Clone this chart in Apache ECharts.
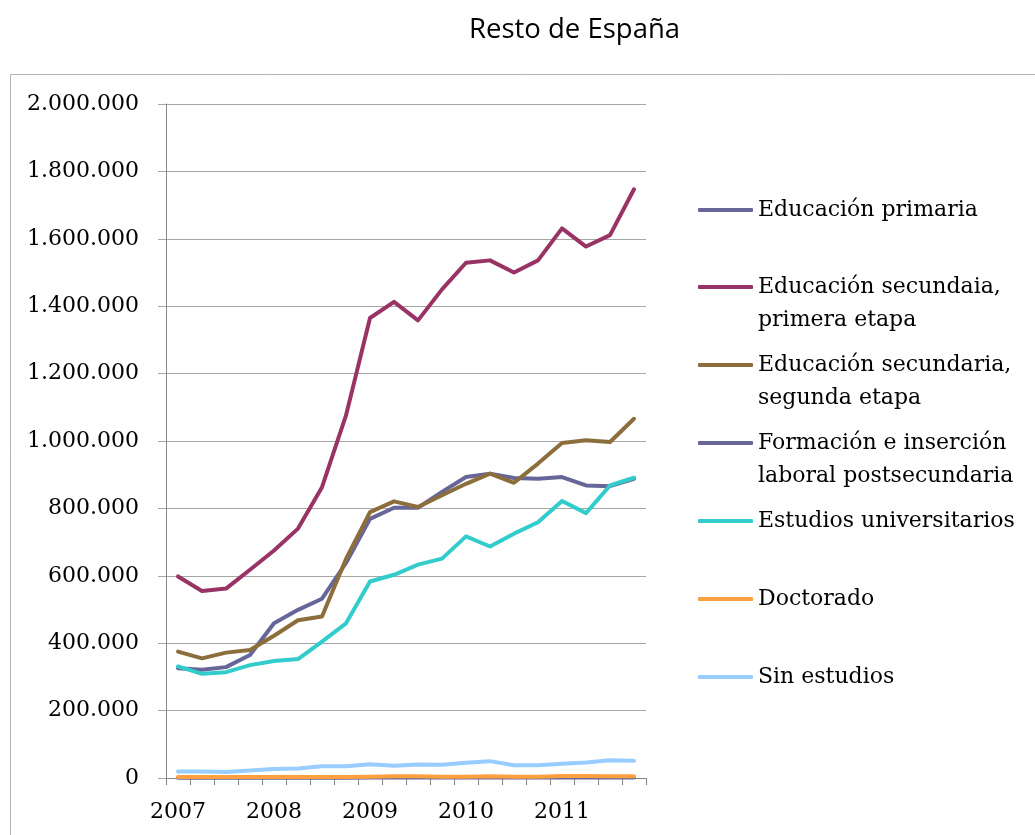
<!DOCTYPE html>
<html>
<head>
<meta charset="utf-8">
<script src="https://cdn.jsdelivr.net/npm/echarts@6/dist/echarts.min.js"></script>
<style>
html,body{margin:0;padding:0;background:#fff;}
#chart{width:1035px;height:835px;}
</style>
</head>
<body>
<div id="chart"></div>
<script>
const title = 'Resto de España';
const categories = [
  '2007T1','2007T2','2007T3','2007T4',
  '2008T1','2008T2','2008T3','2008T4',
  '2009T1','2009T2','2009T3','2009T4',
  '2010T1','2010T2','2010T3','2010T4',
  '2011T1','2011T2','2011T3','2011T4'
];
const seriesNames = [
  'Educación primaria',
  'Educación secundaia, primera etapa',
  'Educación secundaria, segunda etapa',
  'Formación e inserción laboral postsecundaria',
  'Estudios universitarios',
  'Doctorado',
  'Sin estudios'
];
const legendLabels = [
  'Educación primaria',
  'Educación secundaia,\nprimera etapa',
  'Educación secundaria,\nsegunda etapa',
  'Formación e inserción\nlaboral postsecundaria',
  'Estudios universitarios',
  'Doctorado',
  'Sin estudios'
];
const primaria = [326000,321000,329000,365000,459000,499000,532000,638000,769000,802000,802000,849000,893000,903000,890000,888000,893000,868000,866000,888000];
const secundaria1 = [598000,555000,562000,618000,675000,740000,863000,1076000,1365000,1413000,1358000,1450000,1529000,1536000,1500000,1536000,1631000,1577000,1611000,1747000];
const secundaria2 = [375000,355000,372000,380000,422000,468000,479000,650000,789000,821000,804000,839000,873000,903000,876000,933000,994000,1002000,997000,1066000];
const formacion = [1000,1000,1000,1000,1000,1000,1000,1000,1500,1500,1500,1500,1500,1500,1500,1500,1500,1500,1500,1500];
const universitarios = [331000,309000,314000,335000,347000,353000,405000,459000,583000,603000,633000,651000,717000,687000,725000,759000,822000,786000,868000,891000];
const doctorado = [3000,3000,3000,3000,3000,3000,3000,3000,4000,5000,5000,4000,4000,5000,4000,4000,6000,6000,5000,5000];
const sinEstudios = [19000,19000,18000,22000,27000,28000,35000,35000,41000,36000,40000,39000,45000,50000,38000,38000,42000,46000,53000,51000];
const yTicks = {min: 0, max: 2000000, interval: 200000};

const seriesData = [primaria, secundaria1, secundaria2, formacion, universitarios, doctorado, sinEstudios];
const colors = ['#666699','#993366','#8c6e3c','#666699','#33cccc','#ffa040','#99ccff'];
const legendY = [210, 287, 365, 443, 521, 599, 677];

const serif = 'DejaVu Serif';
const LH = 33;

function fmt(v){
  return String(v).replace(/\B(?=(\d{3})+(?!\d))/g, '.');
}

const legends = seriesNames.map((name, i) => {
  const twoLine = legendLabels[i].indexOf('\n') >= 0;
  // a leading blank line keeps the first text line level with the legend line
  const label = twoLine ? ' \n' + legendLabels[i] : legendLabels[i];
  return {
    data: [name],
    orient: 'vertical',
    left: 698,
    top: twoLine ? legendY[i] - LH * 1.5 : legendY[i] - LH / 2,
    padding: 0,
    itemWidth: 55,
    itemHeight: 4,
    icon: 'roundRect',
    selectedMode: false,
    formatter: () => label,
    textStyle: {
      fontFamily: serif,
      fontSize: 22,
      color: '#000',
      lineHeight: LH
    }
  };
});

const chart = echarts.init(document.getElementById('chart'), null, {renderer: 'canvas'});
chart.setOption({
  animation: false,
  backgroundColor: '#fff',
  color: colors,
  title: {
    text: title,
    left: 469,
    top: 16,
    padding: 0,
    textStyle: {fontFamily: 'Open Sans', fontSize: 27.5, fontWeight: 'normal', color: '#000'}
  },
  graphic: [{
    type: 'rect',
    shape: {x: 10.5, y: 74.5, width: 1100, height: 900},
    style: {fill: 'none', stroke: '#b4b4b4', lineWidth: 1},
    silent: true,
    z: -10
  }],
  legend: legends,
  grid: {left: 166, top: 104, width: 480, height: 674, containLabel: false},
  xAxis: {
    type: 'category',
    data: categories,
    boundaryGap: true,
    axisLine: {show: true, lineStyle: {color: '#868686', width: 1}},
    axisTick: {show: true, interval: 0, length: 7, lineStyle: {color: '#868686'}},
    axisLabel: {
      interval: 3,
      margin: 23,
      formatter: v => v.slice(0, 4),
      fontFamily: serif,
      fontSize: 22,
      color: '#000'
    },
    splitLine: {show: false}
  },
  yAxis: {
    type: 'value',
    min: yTicks.min,
    max: yTicks.max,
    interval: yTicks.interval,
    axisLine: {show: true, lineStyle: {color: '#868686', width: 1}},
    axisTick: {show: true, length: 8, lineStyle: {color: '#a6a6a6'}},
    axisLabel: {
      margin: 27,
      formatter: fmt,
      fontFamily: serif,
      fontSize: 22,
      color: '#000'
    },
    splitLine: {show: true, lineStyle: {color: '#a6a6a6', width: 1}}
  },
  series: seriesNames.map((name, i) => ({
    name: name,
    type: 'line',
    data: seriesData[i],
    symbol: 'none',
    smooth: false,
    lineStyle: {width: 4, color: colors[i], cap: 'round', join: 'round'},
    itemStyle: {color: colors[i]},
    emphasis: {disabled: true}
  }))
});
</script>
</body>
</html>
